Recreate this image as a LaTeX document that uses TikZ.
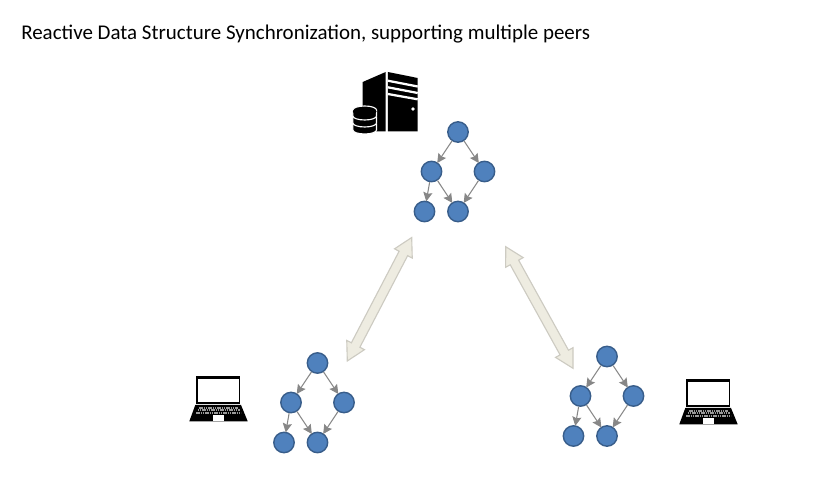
\documentclass[tikz,border=0pt]{standalone}
\usepackage{fontspec}
\setmainfont{Carlito}
\usetikzlibrary{calc,arrows.meta}
\definecolor{nodefill}{HTML}{4F81BD}
\definecolor{nodeline}{HTML}{385D8A}
\definecolor{syncfill}{HTML}{EEECE1}
\definecolor{syncline}{HTML}{CDCBC2}
\tikzset{
  treenode/.style={circle,fill=nodefill,draw=nodeline,line width=1pt,minimum size=0.51cm,inner sep=0pt},
  treeedge/.style={draw=black!47,line width=0.75pt,-{Stealth[length=6.5pt,width=6.5pt,inset=1pt]},shorten >=-0.5pt},
  syncarrow/.style={fill=syncfill,draw=syncline,line width=0.8pt,line join=miter},
  peertree/.pic={
    \node[treenode] (a) at (0,0) {};
    \node[treenode] (b) at (-26.5,39.5) {};
    \node[treenode] (c) at (26.5,39.5) {};
    \node[treenode] (d) at (-33.5,79.5) {};
    \node[treenode] (e) at (0,79.5) {};
    \draw[treeedge] (a) -- (b);
    \draw[treeedge] (a) -- (c);
    \draw[treeedge] (b) -- (d);
    \draw[treeedge] (b) -- (e);
    \draw[treeedge] (c) -- (e);
  },
  laptop/.pic={
    \fill[black] (-22.5,-23) rectangle (21.8,4.7);
    \fill[white] (-20.8,-20.3) rectangle (20.1,3);
    \fill[black] (-23.2,6) -- (22.5,6) -- (29.2,22.3) -- (-29.2,22.3) -- cycle;
    \foreach \yy/\xx in {8.8/19.5,11.3/21,13.8/22.5}
      \draw[black!40,line width=1.3pt,dash pattern=on 1.1pt off 0.5pt] (-\xx,\yy) -- (\xx,\yy);
    \fill[white] (-5.8,16.3) rectangle (5.8,22.3);
  },
}
% double arrow between two named coordinates
\newcommand{\syncdraw}[2]{
  \coordinate (pa) at ($(#1)!0.45cm!(#2)$);
  \coordinate (pb) at ($(#2)!0.45cm!(#1)$);
  \draw[syncarrow] (#1) -- ($(pa)!0.25cm!90:(#2)$) -- ($(pa)!0.12cm!90:(#2)$)
    -- ($(pb)!0.12cm!-90:(#1)$) -- ($(pb)!0.25cm!-90:(#1)$) -- (#2)
    -- ($(pb)!0.25cm!90:(#1)$) -- ($(pb)!0.12cm!90:(#1)$)
    -- ($(pa)!0.12cm!-90:(#2)$) -- ($(pa)!0.25cm!-90:(#2)$) -- cycle;
}
% one disc of the database
\newcommand{\dbdisc}[1]{
  \draw[fill=black,draw=white,line width=0.8pt] (352.9,#1) -- (352.9,#1+6)
    arc[start angle=180,end angle=360,x radius=0.295cm,y radius=0.1cm]
    -- (376.5,#1) arc[start angle=0,end angle=180,x radius=0.295cm,y radius=0.1cm] -- cycle;
}
\begin{document}
\begin{tikzpicture}[x=0.025cm,y=-0.025cm]
\useasboundingbox (0,0) rectangle (816,490);
\node[anchor=west,inner sep=0pt,font=\fontsize{14.9}{18}\selectfont] (title) at (21,34)
  {Reactive Data Structure Synchronization, supporting multiple peers};
%% server
\fill[black] (362.7,82) -- (385.7,72) -- (385.7,131.5) -- (362.7,131.5) -- cycle;
\fill[black] (387.8,72) -- (417.7,78) -- (417.7,131.5) -- (387.8,131.5) -- cycle;
\draw[white,line width=1.6pt] (387.8,80.7) -- (417.7,86.5);
\draw[white,line width=1.6pt] (387.8,87.3) -- (417.7,93);
\draw[white,line width=1.6pt] (387.8,94) -- (417.7,99.3);
\fill[white] (413,109) circle (0.045cm);
\dbdisc{124}
\dbdisc{117}
\dbdisc{110}
\fill[black] (364.7,111.5) ellipse (0.295cm and 0.1cm);
%% trees
\pic (top) at (458,132) {peertree};
\pic (left) at (317.5,363) {peertree};
\pic (right) at (607,356.5) {peertree};
%% laptops
\pic (pcleft) at (218.5,399) {laptop};
\pic (pcright) at (708.5,402) {laptop};
%% sync arrows
\coordinate (syncla) at (411.7,237.5);
\coordinate (synclb) at (347.3,361);
\coordinate (syncra) at (505.7,246.7);
\coordinate (syncrb) at (573,368.3);
\syncdraw{syncla}{synclb}
\syncdraw{syncra}{syncrb}
\end{tikzpicture}
\end{document}
